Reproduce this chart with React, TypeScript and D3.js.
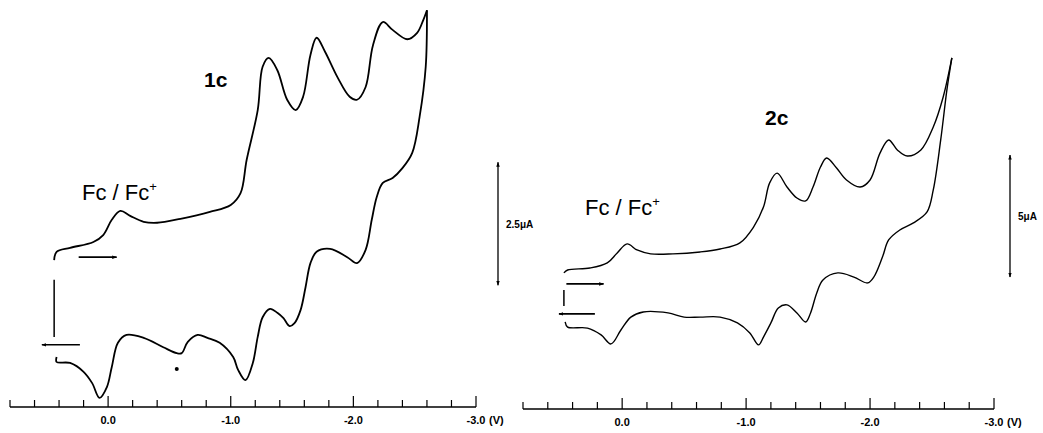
import React, { useEffect, useRef } from "react";
import * as d3 from "d3";

// potential axis (V vs Fc/Fc+)
const tickValues = [0.8, 0.6, 0.4, 0.2, 0, -0.2, -0.4, -0.6, -0.8, -1.0, -1.2, -1.4, -1.6, -1.8, -2.0, -2.2, -2.4, -2.6, -2.8, -3.0];
const majorTicks = [0, -1, -2, -3];
const tickLabels = ["0.0", "-1.0", "-2.0", "-3.0"];

// 1c: [E (V), i (uA)]
const fwd1c = [
  [0.44, 0.81], [0.42, 0.98], [0.31, 1.06], [0.12, 1.18], [0.04, 1.32], [-0.03, 1.63], [-0.10, 1.81],
  [-0.18, 1.71], [-0.29, 1.59], [-0.40, 1.57], [-0.59, 1.65], [-0.83, 1.79], [-1.0, 1.93], [-1.08, 2.17],
  [-1.13, 2.85], [-1.22, 3.86], [-1.26, 4.74], [-1.31, 4.92], [-1.38, 4.67], [-1.46, 4.07], [-1.53, 3.86],
  [-1.59, 4.13], [-1.65, 4.98], [-1.70, 5.33], [-1.77, 5.04], [-1.87, 4.53], [-1.97, 4.13], [-2.03, 4.07],
  [-2.10, 4.33], [-2.16, 5.18], [-2.24, 5.65], [-2.32, 5.49], [-2.44, 5.30], [-2.52, 5.43], [-2.57, 5.69],
  [-2.60, 5.89],
];
const rev1c = [
  [-2.60, 5.89], [-2.59, 4.74], [-2.54, 3.72], [-2.48, 2.99], [-2.40, 2.68], [-2.32, 2.48], [-2.24, 2.38],
  [-2.19, 2.09], [-2.15, 1.63], [-2.10, 1.02], [-2.03, 0.75], [-1.95, 0.87], [-1.81, 1.04], [-1.70, 0.98],
  [-1.65, 0.75], [-1.61, 0.26], [-1.57, -0.20], [-1.52, -0.47], [-1.48, -0.53], [-1.43, -0.37], [-1.38, -0.26],
  [-1.32, -0.18], [-1.26, -0.35], [-1.22, -0.75], [-1.18, -1.28], [-1.12, -1.63], [-1.06, -1.42], [-1.02, -1.16],
  [-0.91, -0.87], [-0.81, -0.77], [-0.73, -0.71], [-0.65, -0.85], [-0.60, -1.08], [-0.56, -1.08], [-0.45, -0.96],
  [-0.29, -0.77], [-0.15, -0.71], [-0.08, -0.87], [-0.03, -1.36], [0.01, -1.77], [0.07, -1.99], [0.13, -1.69],
  [0.20, -1.46], [0.31, -1.28], [0.42, -1.26], [0.42, -1.16],
];

// 2c
const fwd2c = [
  [0.47, 1.11], [0.44, 1.23], [0.26, 1.31], [0.12, 1.52], [0.04, 1.93], [-0.04, 2.30], [-0.12, 2.05],
  [-0.23, 1.89], [-0.41, 1.89], [-0.63, 1.97], [-0.79, 2.09], [-0.95, 2.34], [-1.06, 2.99], [-1.14, 3.81],
  [-1.19, 4.80], [-1.25, 5.20], [-1.33, 4.63], [-1.41, 4.18], [-1.48, 4.06], [-1.54, 4.63], [-1.60, 5.45],
  [-1.65, 5.82], [-1.73, 5.41], [-1.81, 4.92], [-1.92, 4.63], [-2.00, 4.92], [-2.08, 6.02], [-2.15, 6.56],
  [-2.22, 6.15], [-2.30, 5.90], [-2.41, 6.15], [-2.51, 7.09], [-2.59, 8.32], [-2.66, 9.92],
];
const rev2c = [
  [-2.66, 9.92], [-2.62, 8.61], [-2.57, 6.56], [-2.51, 4.51], [-2.46, 3.61], [-2.35, 3.16], [-2.24, 2.87],
  [-2.15, 2.46], [-2.10, 1.76], [-2.03, 0.94], [-1.98, 0.70], [-1.87, 0.94], [-1.74, 1.11], [-1.62, 0.82],
  [-1.57, 0.29], [-1.52, -0.53], [-1.48, -0.90], [-1.41, -0.53], [-1.33, -0.20], [-1.26, -0.33], [-1.20, -0.94],
  [-1.14, -1.52], [-1.10, -1.84], [-1.03, -1.35], [-0.93, -0.94], [-0.79, -0.70], [-0.63, -0.70], [-0.50, -0.70],
  [-0.37, -0.53], [-0.17, -0.49], [-0.07, -0.70], [0.01, -1.23], [0.09, -1.80], [0.17, -1.43], [0.28, -1.15],
  [0.44, -1.11], [0.46, -0.90],
];

const panels = [
  {
    name: "1c", fwd: fwd1c, rev: rev1c,
    xRange: [10, 476], yRange: [300, 177], yDomain: [0, 2.5], axisY: 407, stroke: 1.8,
    switchLine: [0.44, 0.41, -0.75], arrowFwd: [0.24, -0.07, 0.87], arrowRev: [0.23, 0.54, -0.91],
    bar: { x: 498, from: 0.3, to: 2.8, label: "2.5\u03bcA" },
    nameAt: [204, 87], fcAt: [82, 200], star: [-0.56, -1.4],
  },
  {
    name: "2c", fwd: fwd2c, rev: rev2c,
    xRange: [523, 994], yRange: [300, 178], yDomain: [0, 5], axisY: 409, stroke: 1.4,
    switchLine: [0.47, 0.41, -0.25], arrowFwd: [0.45, 0.15, 0.66], arrowRev: [0.22, 0.51, -0.57],
    bar: { x: 1010, from: 0.94, to: 5.94, label: "5\u03bcA" },
    nameAt: [765, 125], fcAt: [585, 215], star: null,
  },
];

const FONT = "'Liberation Sans', Arial, Helvetica, sans-serif";

export default function App() {
  const svgRef = useRef(null);

  useEffect(() => {
    const svg = d3.select(svgRef.current);
    svg.selectAll("*").remove();

    const defs = svg.append("defs");
    defs.append("marker")
      .attr("id", "head")
      .attr("viewBox", "0 0 10 10")
      .attr("refX", 9).attr("refY", 5)
      .attr("markerWidth", 5).attr("markerHeight", 5)
      .attr("orient", "auto-start-reverse")
      .attr("markerUnits", "userSpaceOnUse")
      .append("path")
      .attr("d", "M0,1.5 L10,5 L0,8.5 Z")
      .attr("fill", "#000");

    panels.forEach((p) => {
      const x = d3.scaleLinear().domain([0.8, -3.0]).range(p.xRange);
      const y = d3.scaleLinear().domain(p.yDomain).range(p.yRange);
      const g = svg.append("g");

      const line = d3.line()
        .x((d) => x(d[0]))
        .y((d) => y(d[1]))
        .curve(d3.curveCatmullRom.alpha(0.5));

      [p.fwd, p.rev].forEach((branch) => {
        g.append("path")
          .attr("d", line(branch))
          .attr("fill", "none")
          .attr("stroke", "#000")
          .attr("stroke-width", p.stroke)
          .attr("stroke-linejoin", "round");
      });

      // switching line between the two branch ends
      const [sv, s1, s2] = p.switchLine;
      g.append("line")
        .attr("x1", x(sv)).attr("x2", x(sv))
        .attr("y1", y(s1)).attr("y2", y(s2))
        .attr("stroke", "#000").attr("stroke-width", 1.5);

      // scan direction arrows
      [p.arrowFwd, p.arrowRev].forEach(([a, b, c]) => {
        g.append("line")
          .attr("x1", x(a)).attr("x2", x(b))
          .attr("y1", y(c)).attr("y2", y(c))
          .attr("stroke", "#000").attr("stroke-width", 1.7)
          .attr("marker-end", "url(#head)");
      });

      // current scale bar
      g.append("line")
        .attr("x1", p.bar.x).attr("x2", p.bar.x)
        .attr("y1", y(p.bar.from)).attr("y2", y(p.bar.to))
        .attr("stroke", "#000").attr("stroke-width", 1.3)
        .attr("marker-start", "url(#head)")
        .attr("marker-end", "url(#head)");
      g.append("text")
        .attr("x", p.bar.x + 8)
        .attr("y", (y(p.bar.from) + y(p.bar.to)) / 2 + 4)
        .attr("font-family", FONT).attr("font-weight", "bold")
        .attr("font-size", 10)
        .text(p.bar.label);

      // potential axis, ticks pointing up
      g.append("line")
        .attr("x1", x(0.8)).attr("x2", x(-3.0))
        .attr("y1", p.axisY).attr("y2", p.axisY)
        .attr("stroke", "#000").attr("stroke-width", 1.7);
      g.selectAll(".tick")
        .data(tickValues)
        .enter()
        .append("line")
        .attr("x1", (d) => x(d)).attr("x2", (d) => x(d))
        .attr("y1", p.axisY)
        .attr("y2", (d) => p.axisY - (majorTicks.some((m) => Math.abs(m - d) < 1e-6) ? 11 : 7))
        .attr("stroke", "#000").attr("stroke-width", 1.2);
      g.selectAll(".tlabel")
        .data(majorTicks)
        .enter()
        .append("text")
        .attr("x", (d) => x(d))
        .attr("y", p.axisY + 17)
        .attr("text-anchor", "middle")
        .attr("font-family", FONT).attr("font-weight", "bold")
        .attr("font-size", 11)
        .text((d, i) => tickLabels[i]);
      g.append("text")
        .attr("x", x(-3.0) + 13)
        .attr("y", p.axisY + 17)
        .attr("font-family", FONT).attr("font-weight", "bold")
        .attr("font-size", 11)
        .text("(V)");

      // compound label
      g.append("text")
        .attr("x", p.nameAt[0]).attr("y", p.nameAt[1])
        .attr("font-family", FONT).attr("font-weight", "bold")
        .attr("font-size", 21)
        .text(p.name);

      // Fc / Fc+ label
      const fc = g.append("text")
        .attr("x", p.fcAt[0]).attr("y", p.fcAt[1])
        .attr("font-family", FONT)
        .attr("font-size", 22);
      fc.append("tspan").text("Fc / Fc");
      fc.append("tspan").attr("font-size", 13).attr("dy", -9).text("+");

      if (p.star) {
        g.append("circle")
          .attr("cx", x(p.star[0])).attr("cy", y(p.star[1]))
          .attr("r", 2).attr("fill", "#000");
      }
    });
  }, []);

  return (
    <svg
      ref={svgRef}
      width={1043}
      height={433}
      style={{ position: "fixed", left: 0, top: 0, background: "#fff" }}
    />
  );
}
